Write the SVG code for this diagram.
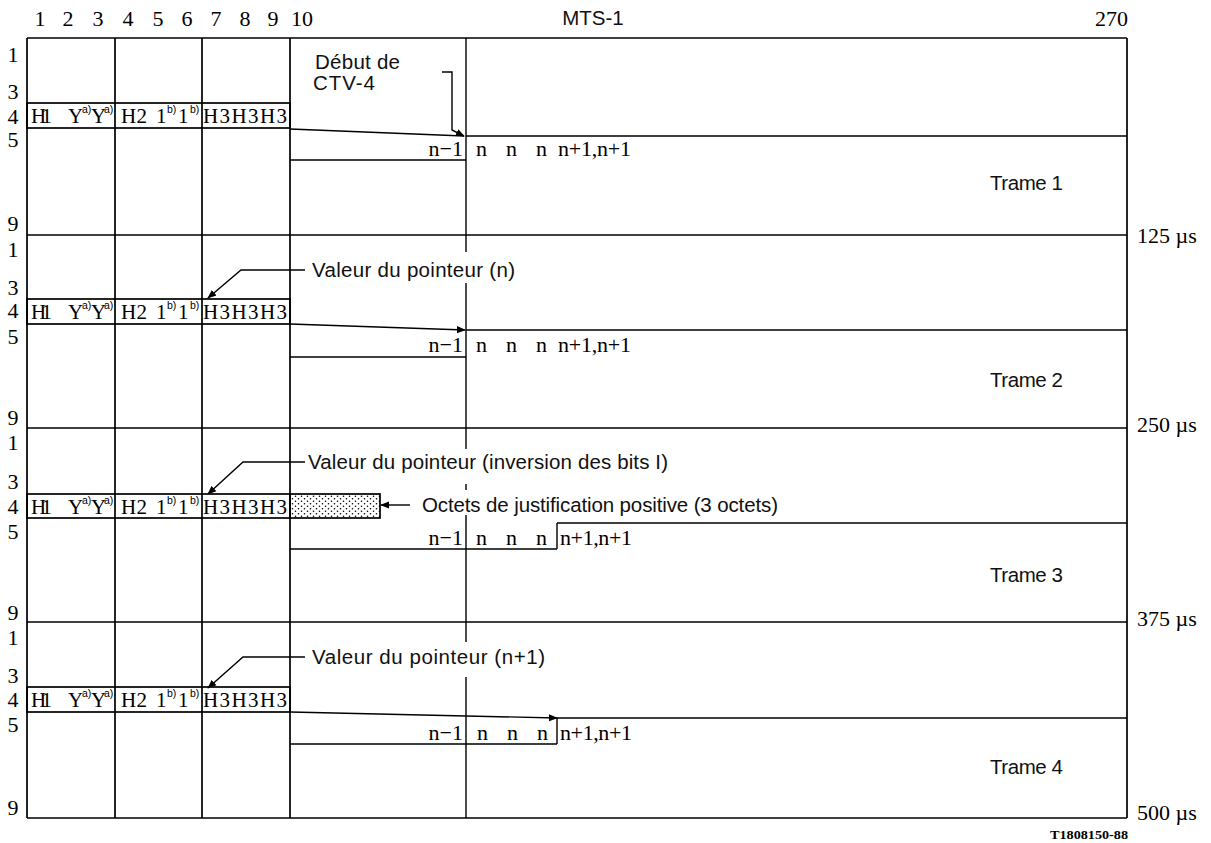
<svg xmlns="http://www.w3.org/2000/svg" width="1211" height="843" viewBox="0 0 1211 843">
<defs>
<style>
.ln{stroke:#000;stroke-width:1.4;fill:none}
.bd{stroke:#000;stroke-width:1.7;fill:none}
.sf{font-family:"Liberation Serif","Times New Roman",serif;font-size:22px;fill:#000}
.hd{font-family:"Liberation Serif","Times New Roman",serif;font-size:21px;fill:#000}
.sup{font-family:"Liberation Sans",Arial,sans-serif;font-size:10.5px;fill:#000}
.ss{font-family:"Liberation Sans",Arial,sans-serif;font-size:20.5px;fill:#111}
.rl{font-family:"Liberation Serif","Times New Roman",serif;font-size:22px;fill:#000;text-anchor:middle}
.code{font-family:"Liberation Serif","Times New Roman",serif;font-size:13px;font-weight:bold;fill:#000}
</style>
<marker id="ah" viewBox="0 0 10 10" refX="9" refY="5" markerWidth="9" markerHeight="9" markerUnits="userSpaceOnUse" orient="auto"><path d="M0,1 L10,5 L0,9 Z" fill="#000"/></marker>
<pattern id="dots" width="6" height="5" patternUnits="userSpaceOnUse"><circle cx="1.5" cy="1.2" r="0.8" fill="#000"/><circle cx="4.5" cy="3.7" r="0.8" fill="#000"/></pattern>
</defs>
<rect width="1211" height="843" fill="#fff"/>

<g id="column-labels">
<text class="rl" x="40" y="26">1</text><text class="rl" x="68" y="26">2</text><text class="rl" x="98" y="26">3</text>
<text class="rl" x="128" y="26">4</text><text class="rl" x="158" y="26">5</text><text class="rl" x="187" y="26">6</text>
<text class="rl" x="216" y="26">7</text><text class="rl" x="245" y="26">8</text><text class="rl" x="273" y="26">9</text>
<text class="rl" x="302" y="26">10</text>
<text class="ss" x="593" y="25" text-anchor="middle">MTS-1</text>
<text class="sf" x="1128" y="26" text-anchor="end">270</text>
</g>

<g id="grid">
<path class="bd" d="M27,38 H1127 M27,235 H1127 M27,428 H1127 M27,622 H1127 M27,818 H1127"/>
<path class="bd" d="M27,38 V818 M115,38 V818 M202,38 V818 M290,38 V818 M1127,38 V818"/>
<path class="ln" d="M466,38 V235 M466,235 V252 M466,283 V428 M466,428 V449 M466,484 V490 M466,515 V622 M466,622 V642 M466,677 V818"/>
</g>

<g id="time-labels">
<text class="sf" x="1137" y="243">125  µs</text>
<text class="sf" x="1137" y="432">250  µs</text>
<text class="sf" x="1137" y="626">375  µs</text>
<text class="sf" x="1137" y="820">500  µs</text>
<text class="code" x="1050" y="839" textLength="78" lengthAdjust="spacingAndGlyphs">T1808150-88</text>
</g>

<g id="trame-1">
<text class="rl" x="13" y="62">1</text><text class="rl" x="13" y="99">3</text><text class="rl" x="13" y="124">4</text><text class="rl" x="13" y="147">5</text><text class="rl" x="13" y="231">9</text>
<rect class="bd" x="27" y="103" width="263" height="25"/>
<text class="hd" x="31" y="123" textLength="21">H1</text>
<text class="hd" x="68" y="123" textLength="13">Y</text><text class="sup" x="82" y="113">a)</text>
<text class="hd" x="91" y="123" textLength="13">Y</text><text class="sup" x="104" y="113">a)</text>
<text class="hd" x="121" y="123" textLength="26">H2</text>
<text class="hd" x="156" y="123">1</text><text class="sup" x="167" y="113">b)</text>
<text class="hd" x="178" y="123">1</text><text class="sup" x="190" y="113">b)</text>
<text class="hd" x="203" y="123" textLength="84">H3H3H3</text>
<path class="ln" d="M466,136 H1127 M290,160 H466"/>
<text class="sf" x="463" y="156" text-anchor="end">n−1</text>
<text class="sf" x="476" y="156">n</text><text class="sf" x="506" y="156">n</text><text class="sf" x="536" y="156">n</text>
<text class="sf" x="558" y="156" textLength="73">n+1,n+1</text>
<text class="ss" x="315" y="69" textLength="85">Début de</text>
<text class="ss" x="313" y="90" textLength="62">CTV-4</text>
<text class="ss" x="990" y="190" textLength="73">Trame 1</text>
</g>

<g id="trame-2">
<text class="rl" x="13" y="257">1</text><text class="rl" x="13" y="295">3</text><text class="rl" x="13" y="318">4</text><text class="rl" x="13" y="344">5</text><text class="rl" x="13" y="425">9</text>
<rect class="bd" x="27" y="299" width="263" height="25"/>
<text class="hd" x="31" y="319" textLength="21">H1</text>
<text class="hd" x="68" y="319" textLength="13">Y</text><text class="sup" x="82" y="309">a)</text>
<text class="hd" x="91" y="319" textLength="13">Y</text><text class="sup" x="104" y="309">a)</text>
<text class="hd" x="121" y="319" textLength="26">H2</text>
<text class="hd" x="156" y="319">1</text><text class="sup" x="167" y="309">b)</text>
<text class="hd" x="178" y="319">1</text><text class="sup" x="190" y="309">b)</text>
<text class="hd" x="203" y="319" textLength="84">H3H3H3</text>
<path class="ln" d="M466,330 H1127 M290,357 H466"/>
<text class="sf" x="463" y="352" text-anchor="end">n−1</text>
<text class="sf" x="476" y="352">n</text><text class="sf" x="506" y="352">n</text><text class="sf" x="536" y="352">n</text>
<text class="sf" x="558" y="352" textLength="73">n+1,n+1</text>
<text class="ss" x="312" y="277" textLength="203">Valeur du pointeur (n)</text>
<text class="ss" x="990" y="387" textLength="73">Trame 2</text>
</g>

<g id="trame-3">
<text class="rl" x="13" y="450">1</text><text class="rl" x="13" y="489">3</text><text class="rl" x="13" y="514">4</text><text class="rl" x="13" y="539">5</text><text class="rl" x="13" y="620">9</text>
<rect class="bd" x="27" y="494" width="263" height="24"/>
<rect x="290" y="494" width="90" height="24" fill="url(#dots)" stroke="#000" stroke-width="1.7"/>
<text class="hd" x="31" y="514" textLength="21">H1</text>
<text class="hd" x="68" y="514" textLength="13">Y</text><text class="sup" x="82" y="504">a)</text>
<text class="hd" x="91" y="514" textLength="13">Y</text><text class="sup" x="104" y="504">a)</text>
<text class="hd" x="121" y="514" textLength="26">H2</text>
<text class="hd" x="156" y="514">1</text><text class="sup" x="167" y="504">b)</text>
<text class="hd" x="178" y="514">1</text><text class="sup" x="190" y="504">b)</text>
<text class="hd" x="203" y="514" textLength="84">H3H3H3</text>
<path class="ln" d="M557,523 H1127 M557,523 V549 M290,549 H557"/>
<text class="sf" x="463" y="545" text-anchor="end">n−1</text>
<text class="sf" x="476" y="545">n</text><text class="sf" x="506" y="545">n</text><text class="sf" x="536" y="545">n</text>
<text class="sf" x="560" y="545" textLength="72">n+1,n+1</text>
<text class="ss" x="308" y="469" textLength="360">Valeur du pointeur (inversion des bits I)</text>
<text class="ss" x="422" y="512" textLength="356">Octets de justification positive (3 octets)</text>
<text class="ss" x="990" y="582" textLength="73">Trame 3</text>
</g>

<g id="trame-4">
<text class="rl" x="13" y="645">1</text><text class="rl" x="13" y="683">3</text><text class="rl" x="13" y="707">4</text><text class="rl" x="13" y="732">5</text><text class="rl" x="13" y="815">9</text>
<rect class="bd" x="27" y="687" width="263" height="25"/>
<text class="hd" x="31" y="707" textLength="21">H1</text>
<text class="hd" x="68" y="707" textLength="13">Y</text><text class="sup" x="82" y="697">a)</text>
<text class="hd" x="91" y="707" textLength="13">Y</text><text class="sup" x="104" y="697">a)</text>
<text class="hd" x="121" y="707" textLength="26">H2</text>
<text class="hd" x="156" y="707">1</text><text class="sup" x="167" y="697">b)</text>
<text class="hd" x="178" y="707">1</text><text class="sup" x="190" y="697">b)</text>
<text class="hd" x="203" y="707" textLength="84">H3H3H3</text>
<path class="ln" d="M557,718 H1127 M557,718 V744 M290,744 H557"/>
<text class="sf" x="463" y="740" text-anchor="end">n−1</text>
<text class="sf" x="477" y="740">n</text><text class="sf" x="507" y="740">n</text><text class="sf" x="537" y="740">n</text>
<text class="sf" x="560" y="740" textLength="72">n+1,n+1</text>
<text class="ss" x="312" y="664" textLength="233">Valeur du pointeur (n+1)</text>
<text class="ss" x="990" y="774" textLength="73">Trame 4</text>
</g>

<g id="connectors">
<path class="ln" d="M290,129 L464,136"/>
<path class="ln" d="M442,72 H452 V130 L464,136" marker-end="url(#ah)"/>
<path class="ln" d="M290,324 L465,330" marker-end="url(#ah)"/>
<path class="ln" d="M290,712 L557,718" marker-end="url(#ah)"/>
<path class="ln" d="M305,270 H241 L208,298" marker-end="url(#ah)"/>
<path class="ln" d="M305,462 H243 L208,494" marker-end="url(#ah)"/>
<path class="ln" d="M305,657 H243 L208,688" marker-end="url(#ah)"/>
<path class="ln" d="M410,505 H381" marker-end="url(#ah)"/>
</g>
</svg>
